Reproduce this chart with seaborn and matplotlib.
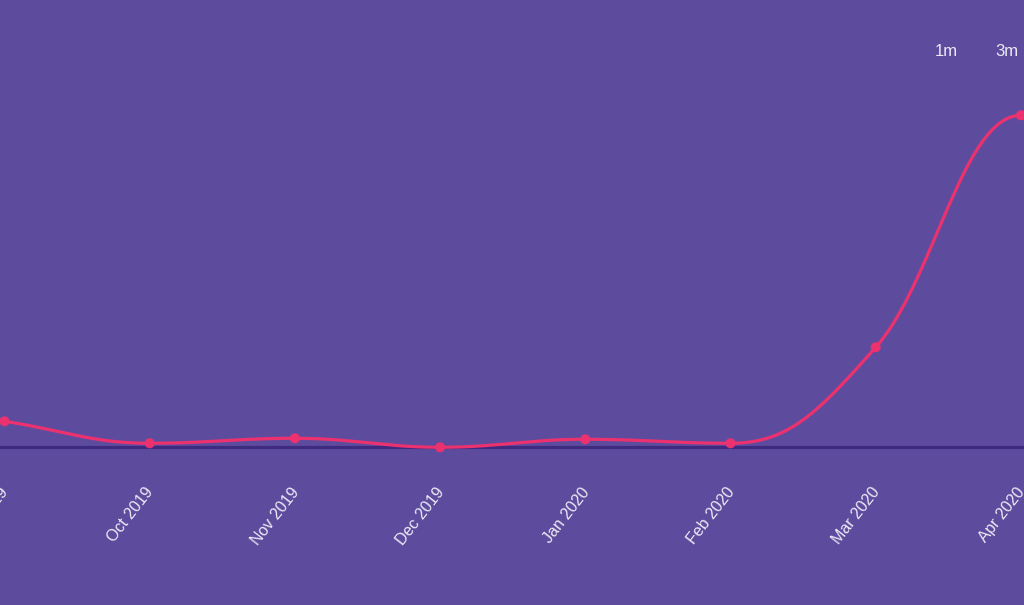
import numpy as np
import pandas as pd
import matplotlib
matplotlib.use("Agg")
import matplotlib.pyplot as plt
import matplotlib.transforms as mtransforms
import seaborn as sns

# monthly values (visible window of the chart)
months = ["Sep 2019", "Oct 2019", "Nov 2019", "Dec 2019",
          "Jan 2020", "Feb 2020", "Mar 2020", "Apr 2020"]
values = [26, 4, 9, 0, 8, 4, 100, 332]
range_buttons = ["1m", "3m"]

BG = "#5D4C9E"
LINE = "#EC316F"
AXIS = "#3E2B80"
TEXT = "#ECEAF5"


def spline_path(xs, ys, smoothing=1.5, n=40):
    """ Highcharts-like spline: cubic beziers with control points clamped
    so no false extremes appear between points """
    xs = np.asarray(xs, float)
    ys = np.asarray(ys, float)
    k = len(xs)
    denom = smoothing + 1
    left = [(x, y) for x, y in zip(xs, ys)]
    right = [(x, y) for x, y in zip(xs, ys)]
    for i in range(k):
        x, y = xs[i], ys[i]
        if 0 < i < k - 1:
            lx, ly = xs[i - 1], ys[i - 1]
            nx, ny = xs[i + 1], ys[i + 1]
            lcx = (smoothing * x + lx) / denom
            lcy = (smoothing * y + ly) / denom
            rcx = (smoothing * x + nx) / denom
            rcy = (smoothing * y + ny) / denom
            corr = (rcy - lcy) * (rcx - x) / (rcx - lcx) + y - rcy
            lcy += corr
            rcy += corr
            if lcy > ly and lcy > y:
                lcy = max(ly, y); rcy = 2 * y - lcy
            elif lcy < ly and lcy < y:
                lcy = min(ly, y); rcy = 2 * y - lcy
            if rcy > ny and rcy > y:
                rcy = max(ny, y); lcy = 2 * y - rcy
            elif rcy < ny and rcy < y:
                rcy = min(ny, y); lcy = 2 * y - rcy
            left[i] = (lcx, lcy)
            right[i] = (rcx, rcy)
        elif i == 0:
            # series continues off-canvas to the left: head towards next point
            right[i] = ((smoothing * x + xs[1]) / denom,
                        (smoothing * y + ys[1]) / denom)
        else:
            left[i] = ((smoothing * x + xs[i - 1]) / denom, y)
    t = np.linspace(0, 1, n)
    px, py = [], []
    for i in range(k - 1):
        p0 = np.array([xs[i], ys[i]])
        p1 = np.array(right[i])
        p2 = np.array(left[i + 1])
        p3 = np.array([xs[i + 1], ys[i + 1]])
        pts = (np.outer((1 - t) ** 3, p0) + np.outer(3 * (1 - t) ** 2 * t, p1)
               + np.outer(3 * (1 - t) * t ** 2, p2) + np.outer(t ** 3, p3))
        px.extend(pts[:, 0])
        py.extend(pts[:, 1])
    return np.array(px), np.array(py)


df = pd.DataFrame({"month": months, "value": values})
df["idx"] = np.arange(len(df))

sx, sy = spline_path(df["idx"], df["value"])
curve = pd.DataFrame({"x": sx, "y": sy})

sns.set_theme(style="white")
plt.rcParams["font.family"] = ["Liberation Sans", "DejaVu Sans"]

fig = plt.figure(figsize=(10.24, 6.05), dpi=100, facecolor=BG)
ax = fig.add_axes([0, 0.2607, 1, 0.7393])
ax.set_facecolor(BG)

sns.lineplot(data=curve, x="x", y="y", ax=ax, color=LINE, lw=2.3,
             sort=False, estimator=None, clip_on=False, zorder=3)
sns.scatterplot(data=df, x="idx", y="value", ax=ax, color=LINE, s=52,
                edgecolor="none", clip_on=False, zorder=4)
ax.axhline(0, color=AXIS, lw=2.3, zorder=2, clip_on=False)

step = 145.2
ax.set_xlim(-4.5 / step, (1024 - 4.5) / step)
ax.set_ylim(0, 447.3)

ax.set_xticks(df["idx"])
ax.set_xticklabels(df["month"], rotation=52, ha="right", va="center",
                   rotation_mode="anchor", color=TEXT, fontsize=11.5)
ax.tick_params(axis="x", length=0, pad=0)
offset = mtransforms.ScaledTranslation(1 / 100, -42 / 100, fig.dpi_scale_trans)
for lab in ax.get_xticklabels():
    lab.set_transform(lab.get_transform() + offset)
ax.set_yticks([])
ax.set_xlabel("")
ax.set_ylabel("")
for s in ax.spines.values():
    s.set_visible(False)

for label, xpx in zip(range_buttons, [946, 1007]):
    fig.text(xpx / 1024, 1 - 51 / 605, label, color=TEXT, fontsize=12,
             ha="center", va="center")

fig.savefig("out.png", dpi=100, facecolor=BG)
